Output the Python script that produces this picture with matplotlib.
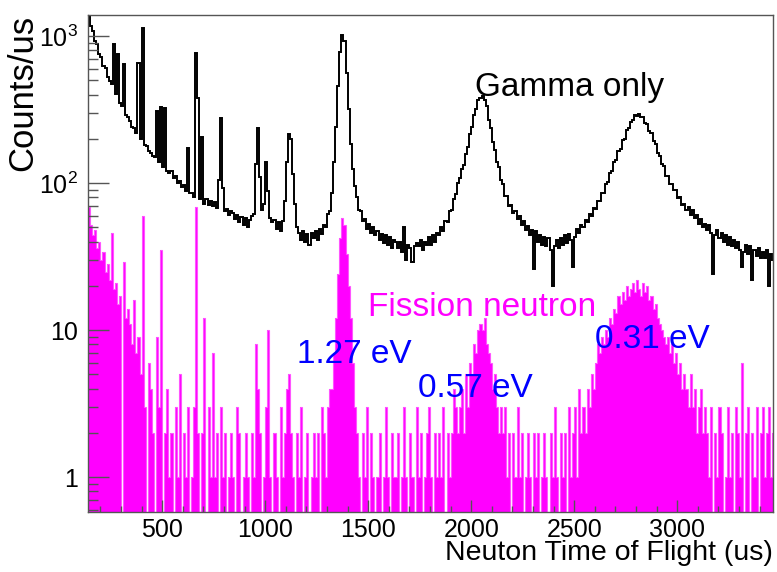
import matplotlib
matplotlib.use('Agg')
import matplotlib.pyplot as plt
import numpy as np
from matplotlib.ticker import FixedLocator, LogLocator, MultipleLocator, NullFormatter

plt.rcParams['font.family'] = ['Liberation Sans', 'DejaVu Sans']
plt.rcParams['mathtext.fontset'] = 'custom'
plt.rcParams['mathtext.rm'] = 'Liberation Sans'

# histogram binning (us)
tof_start = 140
bin_width = 10

# counts/us, one row = 100 us
gamma_only = [
    1380, 1170, 1090, 930, 880, 750, 720, 630, 610, 530,
    495, 470, 880, 405, 760, 350, 335, 650, 290, 280,
    265, 240, 238, 218, 655, 198, 1130, 180, 178, 164,
    160, 152, 150, 310, 140, 330, 128, 325, 120, 117,
    120, 108, 112, 100, 104, 94, 97, 88, 172, 85,
    86, 80, 770, 380, 78, 205, 72, 78, 71, 75,
    70, 74, 68, 105, 277, 92, 64, 67, 61, 64,
    63, 57, 61, 54, 59, 52, 58, 50, 56, 60,
    62, 135, 235, 110, 66, 72, 138, 88, 58, 54,
    56, 49, 54, 47, 55, 75, 140, 215, 200, 115,
    72, 50, 46, 41, 47, 40, 45, 38, 46, 42,
    47, 41, 49, 45, 52, 50, 62, 65, 85, 140,
    240, 460, 780, 1020, 920, 560, 320, 185, 125, 95,
    80, 66, 64, 55, 57, 49, 53, 46, 50, 44,
    47, 41, 45, 39, 44, 38, 43, 36, 41, 40,
    36, 40, 34, 50, 30, 38, 36, 29, 37, 39,
    37, 41, 35, 40, 38, 43, 38, 44, 40, 46,
    44, 50, 47, 55, 54, 64, 66, 78, 84, 100,
    108, 124, 132, 158, 176, 215, 240, 290, 320, 365,
    380, 392, 365, 335, 270, 235, 190, 168, 140, 128,
    105, 98, 82, 81, 70, 71, 63, 64, 57, 60,
    52, 55, 48, 51, 44, 48, 26, 47, 40, 44,
    38, 43, 37, 42, 35, 20, 37, 41, 36, 42,
    38, 44, 39, 45, 41, 27, 43, 49, 46, 52,
    50, 56, 54, 62, 60, 68, 67, 76, 75, 85,
    86, 99, 101, 117, 120, 139, 144, 165, 170, 195,
    200, 228, 235, 262, 268, 290, 285, 295, 280, 280,
    255, 252, 225, 220, 192, 184, 160, 153, 135, 130,
    112, 111, 99, 99, 89, 90, 79, 80, 71, 72,
    66, 69, 61, 66, 58, 61, 53, 57, 50, 53,
    48, 52, 46, 24, 44, 48, 42, 46, 40, 44,
    38, 43, 37, 41, 36, 40, 35, 27, 34, 38,
    33, 37, 22, 35, 32, 36, 31, 34, 31, 35,
    20, 33, 30, 33, 31, 32, 30, 31, 30, 31,
]

fission = [
    69, 52, 44, 48, 36, 40, 30, 34, 25, 28,
    22, 46, 19, 21, 15, 17, 0, 29, 12, 14,
    11, 8, 16, 7, 9, 5, 60, 3, 0, 6,
    4, 2, 0, 9, 3, 35, 0, 2, 4, 1,
    2, 0, 3, 1, 5, 0, 2, 1, 3, 0,
    1, 3, 69, 2, 0, 2, 12, 0, 3, 1,
    7, 1, 2, 0, 3, 1, 2, 0, 1, 2,
    1, 0, 3, 2, 0, 1, 2, 1, 0, 2,
    1, 8, 4, 2, 0, 1, 3, 10, 1, 0,
    2, 1, 0, 3, 1, 2, 4, 5, 2, 1,
    0, 2, 1, 3, 0, 1, 2, 0, 1, 2,
    1, 2, 0, 3, 2, 1, 3, 4, 4, 7,
    12, 24, 42, 58, 52, 33, 20, 12, 6, 3,
    2, 1, 0, 2, 1, 3, 0, 2, 1, 0,
    1, 2, 0, 1, 3, 1, 0, 2, 1, 1,
    2, 0, 1, 3, 1, 0, 2, 1, 0, 3,
    1, 2, 0, 1, 2, 3, 1, 0, 2, 1,
    2, 1, 3, 0, 2, 1, 2, 4, 3, 2,
    3, 4, 2, 5, 3, 6, 5, 8, 7, 10,
    11, 10, 12, 8, 7, 6, 4, 5, 3, 2,
    3, 2, 3, 1, 2, 0, 2, 1, 3, 1,
    2, 0, 1, 2, 1, 0, 2, 1, 2, 0,
    1, 2, 1, 0, 2, 1, 3, 1, 0, 2,
    1, 2, 0, 3, 1, 2, 3, 1, 4, 2,
    3, 2, 4, 3, 5, 4, 6, 8, 7, 9,
    8, 10, 9, 12, 11, 14, 13, 17, 15, 18,
    16, 20, 17, 19, 21, 18, 22, 19, 17, 21,
    18, 20, 16, 17, 14, 15, 12, 11, 10, 9,
    8, 9, 7, 8, 6, 7, 5, 6, 4, 5,
    4, 3, 5, 3, 4, 2, 3, 4, 2, 3,
    2, 1, 3, 0, 2, 1, 3, 2, 0, 1,
    3, 1, 2, 0, 3, 2, 1, 6, 0, 2,
    3, 0, 2, 1, 3, 0, 2, 3, 1, 2,
    3, 1, 2, 0, 3, 2, 1, 2, 0, 1,
]

xticks = [500, 1000, 1500, 2000, 2500, 3000]
yticks = [1, 10, 100, 1000]
ytick_labels = ['1', '10', r'$10^{2}$', r'$10^{3}$']
resonances = ['1.27 eV', '0.57 eV', '0.31 eV']

edges = tof_start + bin_width * np.arange(len(gamma_only) + 1)

fig = plt.figure(figsize=(7.77, 5.72), dpi=100)
ax = fig.add_axes([0.1133, 0.1049, 0.8816, 0.8689])

ax.stairs(gamma_only, edges, color='black', lw=1.4)
# empty bins drop to the bottom of the frame, as ROOT does
fis = np.asarray(fission, dtype=float)
fis[fis <= 0] = 1e-3
ax.stairs(fis, edges, baseline=1e-3, fill=True, color='#ff00ff', lw=0)
ax.stairs(fis, edges, color='#ff55ff', lw=0.8)

ax.set_yscale('log')
ax.set_xlim(140, 3465)
ax.set_ylim(0.578, 1390)

ax.xaxis.set_major_locator(FixedLocator(xticks))
ax.xaxis.set_minor_locator(MultipleLocator(100))
ax.yaxis.set_major_locator(FixedLocator(yticks))
ax.set_yticklabels(ytick_labels)
ax.yaxis.set_minor_locator(LogLocator(base=10, subs=np.arange(2, 10)))
ax.yaxis.set_minor_formatter(NullFormatter())

ax.tick_params(axis='x', which='major', direction='in', length=9, width=1,
               color='#555555', labelsize=18, pad=4)
ax.tick_params(axis='x', which='minor', direction='in', length=4.5, width=1,
               color='#555555')
ax.tick_params(axis='y', which='major', direction='in', length=15, width=1,
               color='#555555', labelsize=18, pad=7)
ax.tick_params(axis='y', which='minor', direction='in', length=7.5, width=1,
               color='#555555')
for s in ax.spines.values():
    s.set_color('#555555')
    s.set_linewidth(1)

ax.set_xlabel('Neuton Time of Flight (us)', fontsize=20.5, loc='right')
ax.xaxis.set_label_coords(1.0, -0.056)
ax.set_ylabel('Counts/us', fontsize=25, loc='top')
ax.yaxis.set_label_coords(-0.071, 1.0)

ax.text(2019, 443, 'Gamma only', fontsize=24, color='black', ha='left', va='center')
ax.text(1500, 14.3, 'Fission neutron', fontsize=24, color='#ff00ff', ha='left', va='center')
ax.text(1155, 6.8, resonances[0], fontsize=24, color='#0000ff', ha='left', va='center')
ax.text(1743, 4.0, resonances[1], fontsize=24, color='#0000ff', ha='left', va='center')
ax.text(2602, 8.6, resonances[2], fontsize=24, color='#0000ff', ha='left', va='center')

fig.savefig('out.png', dpi=100)
